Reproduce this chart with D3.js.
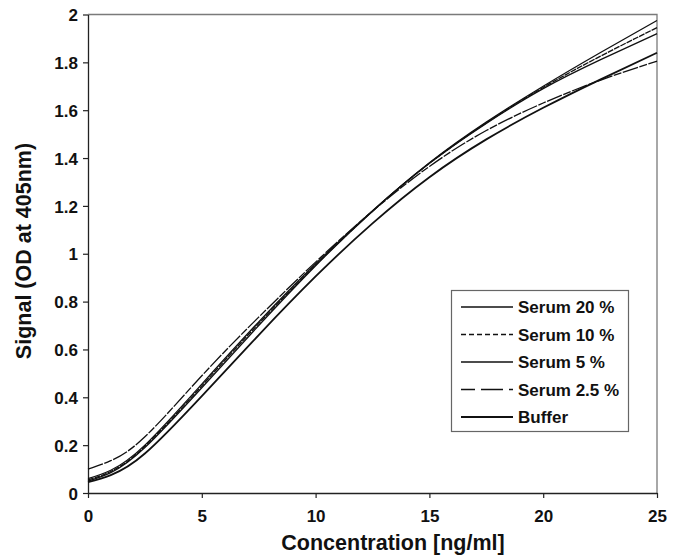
<!DOCTYPE html>
<html>
<head>
<meta charset="utf-8">
<script src="https://cdn.jsdelivr.net/npm/d3@7"></script>
<style>
	body { margin: 0; background: #fff; }
	svg text { font-family: "Liberation Sans", Arial, sans-serif; font-weight: bold; fill: #111; }
</style>
</head>
<body>
<svg id="chart" width="686" height="555"></svg>
<script>
// concentration points (ng/ml)
const conc = [0, 1, 2.5, 5, 7.5, 10, 12.5, 15, 17.5, 20, 22.5, 25];

// signal values
const serum20  = [0.050, 0.085, 0.190, 0.440, 0.700, 0.950, 1.178, 1.380, 1.550, 1.700, 1.840, 1.975];
const serum10  = [0.055, 0.090, 0.195, 0.448, 0.708, 0.953, 1.178, 1.378, 1.547, 1.695, 1.825, 1.945];
const serum5   = [0.060, 0.095, 0.200, 0.455, 0.715, 0.958, 1.180, 1.378, 1.545, 1.690, 1.810, 1.920];
const serum2_5 = [0.100, 0.135, 0.235, 0.490, 0.735, 0.965, 1.178, 1.365, 1.515, 1.630, 1.725, 1.805];
const buffer   = [0.045, 0.075, 0.165, 0.405, 0.660, 0.905, 1.127, 1.320, 1.478, 1.610, 1.728, 1.840];

const seriesNames = ["Serum 20 %", "Serum 10 %", "Serum 5 %", "Serum 2.5 %", "Buffer"];
const seriesVals = [serum20, serum10, serum5, serum2_5, buffer];
const dashes = [null, "5,3", null, "14,6,8,0", null];
const plotDashes = [null, "6,1", null, "16,1.5,8,1.5", null];
const widths = [1.3, 1.3, 1.3, 1.3, 1.8];

const xTicks = [0, 5, 10, 15, 20, 25];
const yTicks = [0, 0.2, 0.4, 0.6, 0.8, 1, 1.2, 1.4, 1.6, 1.8, 2];

const svg = d3.select("#chart");
const mLeft = 88, mRight = 657, mTop = 14.5, mBottom = 493;

const x = d3.scaleLinear().domain([0, 25]).range([mLeft, mRight]);
const y = d3.scaleLinear().domain([0, 2]).range([mBottom, mTop]);

// plot frame (top / right in grey)
svg.append("path")
	.attr("d", `M${mLeft},${mTop}H${mRight}V${mBottom}`)
	.attr("fill", "none").attr("stroke", "#7a7a7a").attr("stroke-width", 1.3);

// axes
const xAxis = svg.append("g")
	.attr("transform", `translate(0,${mBottom})`)
	.call(d3.axisBottom(x).tickValues(xTicks).tickSize(5).tickSizeOuter(0).tickPadding(12).tickFormat(d3.format("d")));
const yAxis = svg.append("g")
	.attr("transform", `translate(${mLeft},0)`)
	.call(d3.axisLeft(y).tickValues(yTicks).tickSize(5).tickSizeOuter(0).tickPadding(5).tickFormat(d => d3.format("")(d)));

[xAxis, yAxis].forEach(a => {
	a.select(".domain").attr("stroke", "#222").attr("stroke-width", 1.3);
	a.selectAll(".tick line").attr("stroke", "#222").attr("stroke-width", 1.2);
	a.selectAll(".tick text")
		.style("font-size", "17px")
		.style("font-weight", "bold")
		.style("font-family", "'Liberation Sans', Arial, sans-serif")
		.attr("fill", "#111");
});
yAxis.selectAll(".tick text").attr("dy", "0.36em");

// axis titles
svg.append("text")
	.attr("x", 393).attr("y", 550)
	.attr("text-anchor", "middle")
	.style("font-size", "21.5px")
	.text("Concentration [ng/ml]");

svg.append("text")
	.attr("transform", "translate(31,251) rotate(-90)")
	.attr("text-anchor", "middle")
	.style("font-size", "21.5px")
	.text("Signal (OD at 405nm)");

// curves
const line = d3.line()
	.x(d => x(d[0]))
	.y(d => y(d[1]))
	.curve(d3.curveNatural);

seriesVals.forEach((vals, i) => {
	svg.append("path")
		.datum(conc.map((c, j) => [c, vals[j]]))
		.attr("d", line)
		.attr("fill", "none")
		.attr("stroke", "#111")
		.attr("stroke-width", widths[i])
		.attr("stroke-dasharray", plotDashes[i]);
});

// legend
const legend = svg.append("g");
legend.append("rect")
	.attr("x", 451.5).attr("y", 290.5).attr("width", 177).attr("height", 141)
	.attr("fill", "#fff").attr("stroke", "#666").attr("stroke-width", 1.2);

seriesNames.forEach((name, i) => {
	const yy = 307 + i * 27.5;
	legend.append("line")
		.attr("x1", 461).attr("x2", 513).attr("y1", yy).attr("y2", yy)
		.attr("stroke", "#111")
		.attr("stroke-width", widths[i])
		.attr("stroke-dasharray", dashes[i]);
	legend.append("text")
		.attr("x", 518).attr("y", yy).attr("dy", "0.36em")
		.style("font-size", "17px")
		.text(name);
});
</script>
</body>
</html>
